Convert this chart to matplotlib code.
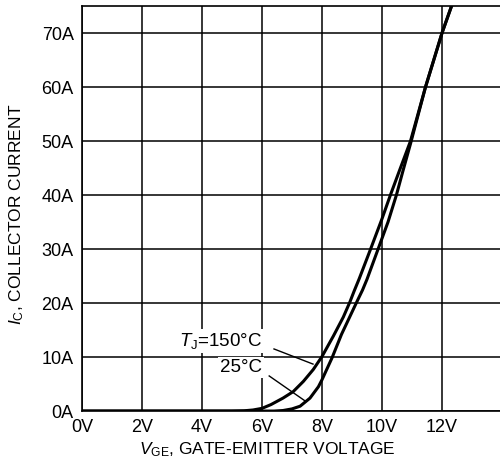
import numpy as np
import matplotlib.pyplot as plt

plt.rcParams['font.family'] = ['Liberation Sans', 'DejaVu Sans']
plt.rcParams['mathtext.fontset'] = 'custom'
plt.rcParams['mathtext.rm'] = 'Liberation Sans'
plt.rcParams['mathtext.it'] = 'Liberation Sans:italic'

# transfer characteristic
vge_150 = [0, 5.0, 5.4, 5.7, 6.0, 6.3, 6.7, 7.04, 7.38, 7.71, 8.0, 8.38, 8.71, 8.93,
           9.07, 9.24, 9.62, 10.0, 10.28, 10.56, 10.95, 11.45, 12.0, 12.35]
ic_150 = [0, 0, 0.05, 0.2, 0.5, 1.2, 2.4, 3.6, 5.5, 7.7, 10.1, 13.9, 17.4, 20.2,
          22.2, 24.5, 30.0, 35.6, 40.0, 44.2, 50.0, 60.0, 70.0, 75.5]
vge_25 = [0, 6.4, 6.7, 7.0, 7.27, 7.6, 7.88, 8.0, 8.33, 8.65, 9.15, 9.35, 9.5,
          9.87, 10.2, 10.48, 10.7, 10.95, 11.45, 12.0, 12.35]
ic_25 = [0, 0, 0.1, 0.4, 0.9, 2.4, 4.5, 5.8, 9.8, 14.2, 20.1, 22.4, 24.4,
         30.0, 35.0, 40.0, 44.5, 49.5, 60.0, 70.0, 75.5]

xticks = [0, 2, 4, 6, 8, 10, 12]
xlabels = ['0V', '2V', '4V', '6V', '8V', '10V', '12V']
yticks = [0, 10, 20, 30, 40, 50, 60, 70]
ylabels = ['0A', '10A', '20A', '30A', '40A', '50A', '60A', '70A']

fig = plt.figure(figsize=(5.0, 4.65), dpi=100)
ax = fig.add_axes([0.164, 0.116, 0.84, 0.871])

ax.plot(vge_150, ic_150, color='black', lw=2.2, zorder=3)
ax.plot(vge_25, ic_25, color='black', lw=2.2, zorder=3)

ax.set_xlim(0, 14)
ax.set_ylim(0, 75)
ax.set_xticks(xticks)
ax.set_xticklabels(xlabels)
ax.set_yticks(yticks)
ax.set_yticklabels(ylabels)
ax.tick_params(length=0, labelsize=13, pad=6)
ax.grid(True, color='black', lw=1.1)
ax.set_axisbelow(True)
for s in ['left', 'top', 'bottom']:
    ax.spines[s].set_linewidth(1.2)
ax.spines['right'].set_visible(False)

# labels for the two curves
ax.text(6.0, 12.9, r'$T_{\mathrm{J}}$=150°C', ha='right', va='center', fontsize=13.5,
        bbox=dict(facecolor='white', edgecolor='none', pad=1.5), zorder=2)
ax.text(6.0, 8.1, '25°C', ha='right', va='center', fontsize=13.5,
        bbox=dict(facecolor='white', edgecolor='none', pad=1.5), zorder=2)
ax.plot([6.4, 7.7], [11.5, 8.7], color='black', lw=1.0, zorder=2)
ax.plot([6.24, 7.43], [6.5, 1.9], color='black', lw=1.0, zorder=2)

fig.text(267 / 500, 1 - 450 / 465, r'$V_{\mathrm{GE}}$, GATE-EMITTER VOLTAGE',
         fontsize=12.5, ha='center', va='center')
fig.text(17 / 500, 1 - 214 / 465, r'$I_{\mathrm{C}}$, COLLECTOR CURRENT',
         fontsize=12.5, ha='center', va='center', rotation=90)

fig.savefig('out.png', dpi=100)
